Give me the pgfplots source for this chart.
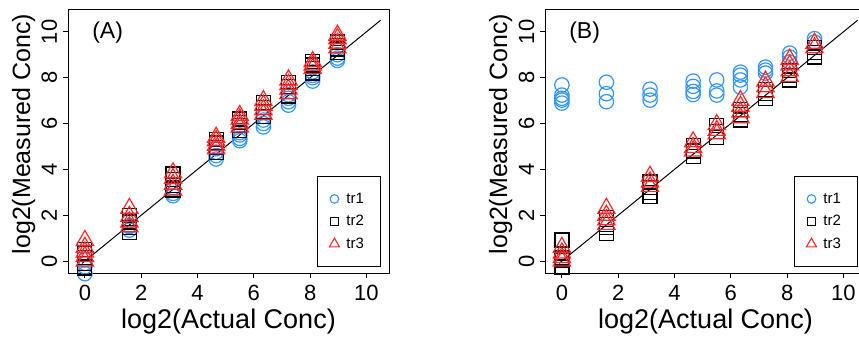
\documentclass[border=0pt]{standalone}
\usepackage{fontspec}
\setmainfont{Liberation Sans}
\usepackage{pgfplots}
\pgfplotsset{compat=1.18}
\definecolor{trblue}{RGB}{51,150,255}
\definecolor{trred}{RGB}{255,40,40}

\pgfplotsset{
  panel/.style={
    scale only axis, width=321pt, height=263pt,
    xmin=-0.6, xmax=10.8, ymin=-0.52, ymax=10.95,
    clip=false,
    xtick={0,2,...,10}, ytick={0,2,...,10},
    tick align=outside, tick pos=left,
    major tick length=5pt,
    axis line style={line width=1pt},
    every tick/.style={line width=1pt, black},
    /pgf/number format/assume math mode=true,
    tick label style={font=\fontsize{22}{22}\selectfont},
    xticklabel shift=7pt,
    xticklabel style={inner sep=0pt},
    yticklabel style={anchor=base, xshift=-6pt, rotate=90, inner sep=0pt},
    xlabel={log2(Actual Conc)}, ylabel={log2(Measured Conc)},
    xlabel style={font=\fontsize{27}{27}\selectfont, inner sep=0pt, at={(axis description cs:0.5,-0.21)}, anchor=base},
    ylabel style={font=\fontsize{25}{25}\selectfont, inner sep=0pt, at={(axis description cs:-0.118,0.528)}, anchor=base},
    legend cell align=left,
    legend style={at={(axis description cs:0.975,0.023)}, anchor=south east,
      draw=black, line width=1pt, inner xsep=11pt, inner ysep=11.25pt,
      column sep=6pt, row sep=0pt,
      font=\fontsize{15}{15}\selectfont,
      nodes={inner sep=0pt, text width=23pt, minimum height=22.5pt}},
  },
  tra/.style={only marks, mark=o, trblue, line width=1.2pt, mark size=7.2pt,
    legend image code/.code={\draw[trblue, line width=1.1pt] plot[only marks, mark=o, mark size=4.3pt] coordinates {(0pt,0pt)}; \path[draw=none, fill=none] (-6pt,-5pt) rectangle (6pt,5pt);}},
  trb/.style={only marks, mark=square, black, line width=1.2pt, mark size=7pt,
    legend image code/.code={\draw[black, line width=1.1pt] plot[only marks, mark=square, mark size=4pt] coordinates {(0pt,0pt)}; \path[draw=none, fill=none] (-6pt,-5pt) rectangle (6pt,5pt);}},
  trc/.style={only marks, mark=triangle, trred, line width=1.2pt, mark size=10pt,
    legend image code/.code={\draw[trred, line width=1.1pt] plot[only marks, mark=triangle, mark size=5.8pt] coordinates {(0pt,0pt)}; \path[draw=none, fill=none] (-6pt,-5pt) rectangle (6pt,5pt);}},
}

\begin{document}
\begin{tikzpicture}
\useasboundingbox (0pt,0pt) rectangle (859pt,343pt);

% ---------------- Panel A ----------------
\begin{axis}[panel, at={(68pt,70pt)}, anchor=south west]
\addplot[black, line width=1pt, forget plot] coordinates {(-0.1,-0.1) (10.5,10.5)};
\addplot[tra] coordinates {
(0,-0.55) (0,-0.25) (0,-0.1) (0,0.05)
(1.58,1.35) (1.58,1.5) (1.58,1.55) (1.58,1.75)
(3.13,2.85) (3.13,2.95) (3.13,3.1) (3.13,3.2)
(4.66,4.45) (4.66,4.6) (4.66,4.75) (4.66,4.9)
(5.5,5.25) (5.5,5.35) (5.5,5.5) (5.5,5.6)
(6.34,5.85) (6.34,6.0) (6.34,6.15) (6.34,6.3)
(7.23,6.8) (7.23,6.95) (7.23,7.1) (7.23,7.25)
(8.09,7.85) (8.09,8.0) (8.09,8.1) (8.09,8.25)
(8.97,8.75) (8.97,8.85) (8.97,9.0)
};
\addlegendentry{tr1}
\addplot[trb] coordinates {
(0,-0.3) (0,-0.1) (0,0.15) (0,0.35) (0,0.5)
(1.58,1.25) (1.58,1.45) (1.58,1.7) (1.58,2.0)
(3.13,3.1) (3.13,3.3) (3.13,3.55) (3.13,3.8)
(4.66,4.75) (4.66,4.95) (4.66,5.15) (4.66,5.3)
(5.5,5.7) (5.5,5.9) (5.5,6.05) (5.5,6.2)
(6.34,6.3) (6.34,6.5) (6.34,6.7) (6.34,6.9)
(7.23,7.2) (7.23,7.4) (7.23,7.6) (7.23,7.8)
(8.09,8.2) (8.09,8.4) (8.09,8.55) (8.09,8.7)
(8.97,9.1) (8.97,9.25) (8.97,9.4) (8.97,9.55)
};
\addlegendentry{tr2}
\addplot[trc] coordinates {
(0,0.0) (0,0.2) (0,0.4) (0,0.6) (0,0.9)
(1.58,1.5) (1.58,1.7) (1.58,1.95) (1.58,2.3)
(3.13,3.1) (3.13,3.35) (3.13,3.6) (3.13,3.85)
(4.66,4.9) (4.66,5.05) (4.66,5.25) (4.66,5.4)
(5.5,5.85) (5.5,6.0) (5.5,6.2) (5.5,6.35)
(6.34,6.4) (6.34,6.6) (6.34,6.8) (6.34,7.0)
(7.23,7.3) (7.23,7.5) (7.23,7.7) (7.23,7.9)
(8.09,8.4) (8.09,8.55) (8.09,8.7)
(8.97,9.3) (8.97,9.5) (8.97,9.7) (8.97,9.85)
};
\addlegendentry{tr3}
\node[anchor=west, inner sep=0pt, font=\fontsize{23}{23}\selectfont] at (axis description cs:0.075,0.9125) {(A)};
\end{axis}

% ---------------- Panel B ----------------
\begin{axis}[panel, at={(545pt,70pt)}, anchor=south west]
\addplot[black, line width=1pt, forget plot] coordinates {(-0.1,-0.1) (10.5,10.5)};
\addplot[tra] coordinates {
(0,7.68) (0,7.24) (0,7.1) (0,7.02) (0,6.89)
(1.58,7.8) (1.58,7.3) (1.58,6.95)
(3.13,7.5) (3.13,7.24) (3.13,7.02)
(4.66,7.85) (4.66,7.62) (4.66,7.4) (4.66,7.26)
(5.5,7.9) (5.5,7.42) (5.5,7.24)
(6.34,8.24) (6.34,8.11) (6.34,7.9) (6.34,7.59)
(7.23,8.46) (7.23,8.33) (7.23,8.2)
(8.09,9.07) (8.09,8.9) (8.09,8.68)
(8.97,9.7) (8.97,9.55)
};
\addlegendentry{tr1}
\addplot[trb] coordinates {
(0,0.92) (0,0.13) (0,-0.26) (0,0.05)
(1.58,1.9) (1.58,1.6) (1.58,1.2) (1.58,1.45)
(3.13,3.45) (3.13,3.2) (3.13,2.8) (3.13,3.0)
(4.66,5.05) (4.66,4.8) (4.66,4.55)
(5.5,5.9) (5.5,5.65) (5.5,5.4)
(6.34,6.6) (6.34,6.4) (6.34,6.15)
(7.23,7.5) (7.23,7.3) (7.23,7.1)
(8.09,8.3) (8.09,8.1) (8.09,7.9)
(8.97,9.3) (8.97,9.1) (8.97,8.9)
};
\addlegendentry{tr2}
\addplot[trc] coordinates {
(0,0.6) (0,0.35) (0,0.15) (0,0.0)
(1.58,2.3) (1.58,2.0) (1.58,1.8) (1.58,1.6)
(3.13,3.7) (3.13,3.45) (3.13,3.25)
(4.66,5.2) (4.66,4.95) (4.66,4.8)
(5.5,5.95) (5.5,5.7) (5.5,5.55)
(6.34,7.0) (6.34,6.75) (6.34,6.5) (6.34,6.25)
(7.23,7.85) (7.23,7.6) (7.23,7.35)
(8.09,8.8) (8.09,8.55) (8.09,8.3) (8.09,8.05)
(8.97,9.5) (8.97,9.3)
};
\addlegendentry{tr3}
\node[anchor=west, inner sep=0pt, font=\fontsize{23}{23}\selectfont] at (axis description cs:0.075,0.9125) {(B)};
\end{axis}
\end{tikzpicture}
\end{document}
